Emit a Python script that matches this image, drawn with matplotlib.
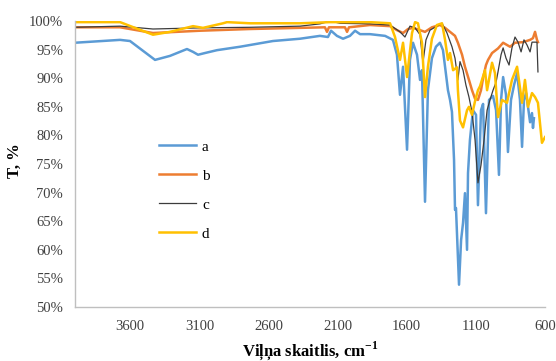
import matplotlib
matplotlib.use("Agg")
import matplotlib.pyplot as plt

# FTIR spectra, (wavenumber cm-1, transmittance %)
pts_a = [
    (4000, 96.2), (3674, 96.7), (3602, 96.5), (3421, 93.2), (3313, 93.9),
    (3190, 95.1), (3146, 94.6), (3110, 94.1), (3060, 94.4), (2973, 94.9),
    (2806, 95.5), (2568, 96.5), (2372, 96.9), (2228, 97.4), (2170, 97.2),
    (2148, 98.3), (2105, 97.4), (2061, 96.9), (2011, 97.4), (1974, 98.3),
    (1938, 97.7), (1866, 97.7), (1757, 97.4), (1700, 96.7), (1671, 94.1),
    (1649, 87.1), (1627, 92.0), (1598, 77.5), (1577, 93.2), (1555, 96.2),
    (1526, 94.1), (1504, 89.7), (1490, 91.4), (1468, 68.4), (1447, 87.9),
    (1418, 93.5), (1389, 95.5), (1360, 96.2), (1338, 94.9), (1323, 92.0),
    (1302, 87.9), (1287, 86.2), (1273, 84.1), (1258, 75.7), (1251, 67.0),
    (1244, 67.3), (1222, 53.9), (1207, 61.7), (1193, 64.7), (1179, 69.9),
    (1164, 60.0), (1157, 73.4), (1143, 79.2), (1121, 84.4), (1099, 83.6),
    (1085, 67.8), (1063, 84.4), (1048, 85.5), (1027, 66.4), (1005, 86.2),
    (976, 86.9), (954, 84.4), (933, 73.1), (918, 86.2), (903, 90.2),
    (882, 87.1), (868, 77.1), (846, 86.2), (824, 88.8), (802, 90.9),
    (781, 86.2), (766, 78.0), (752, 86.2), (737, 87.4), (723, 85.0),
    (708, 82.3), (694, 83.9), (687, 81.3), (680, 83.0),
]

pts_b = [
    (4000, 98.9), (3674, 98.9), (3436, 97.9), (3096, 98.3), (2734, 98.6),
    (2372, 98.8), (2192, 98.9), (2177, 98.1), (2163, 98.9), (2047, 98.9),
    (2032, 98.1), (2018, 98.9), (1866, 99.3), (1721, 99.1), (1671, 98.4),
    (1627, 97.9), (1591, 98.6), (1555, 98.8), (1504, 98.4), (1468, 98.1),
    (1418, 98.9), (1360, 99.3), (1323, 98.8), (1287, 98.1), (1251, 97.4),
    (1230, 96.2), (1200, 94.1), (1179, 92.0), (1150, 89.7), (1128, 87.9),
    (1106, 86.4), (1085, 86.2), (1063, 87.9), (1048, 90.0), (1027, 92.3),
    (1012, 93.2), (983, 94.4), (940, 95.2), (903, 96.2), (853, 95.5),
    (817, 96.2), (759, 96.3), (708, 96.7), (687, 97.0), (672, 98.1),
    (658, 96.7), (651, 96.3),
]

pts_c = [
    (4000, 98.9), (3674, 99.1), (3436, 98.6), (3096, 98.8), (2734, 98.9),
    (2372, 99.1), (2228, 99.5), (2155, 100.0), (2083, 99.6), (1866, 99.5),
    (1721, 99.3), (1649, 98.1), (1613, 97.2), (1577, 99.1), (1540, 98.8),
    (1504, 97.6), (1483, 92.7), (1461, 96.7), (1432, 98.4), (1396, 98.9),
    (1345, 99.6), (1309, 97.9), (1273, 95.5), (1251, 93.5), (1230, 89.7),
    (1215, 92.9), (1193, 91.4), (1172, 88.8), (1150, 86.7), (1128, 84.1),
    (1106, 79.2), (1085, 71.7), (1063, 74.8), (1041, 79.2), (1019, 84.4),
    (998, 86.2), (976, 87.9), (954, 89.3), (940, 91.1), (918, 94.1),
    (903, 95.3), (882, 93.5), (860, 92.3), (839, 95.3), (817, 97.2),
    (795, 96.3), (773, 94.6), (752, 96.7), (730, 95.8), (708, 94.6),
    (694, 96.3), (672, 96.3), (658, 96.3), (651, 91.1),
]

pts_d = [
    (4000, 99.8), (3674, 99.8), (3566, 98.8), (3436, 97.6), (3313, 98.1),
    (3146, 99.1), (3074, 98.8), (2929, 99.6), (2900, 99.8), (2734, 99.6),
    (2372, 99.6), (2155, 99.8), (2047, 99.8), (1866, 99.8), (1721, 99.6),
    (1685, 97.2), (1649, 93.2), (1627, 96.2), (1598, 90.2), (1562, 97.9),
    (1540, 99.8), (1519, 99.6), (1490, 96.2), (1468, 86.7), (1447, 92.0),
    (1418, 96.9), (1382, 99.3), (1345, 99.6), (1323, 96.7), (1302, 93.2),
    (1287, 94.4), (1265, 91.4), (1237, 91.9), (1230, 87.9), (1215, 82.6),
    (1193, 81.4), (1164, 84.4), (1150, 85.0), (1128, 83.6), (1106, 86.0),
    (1085, 87.9), (1070, 88.6), (1034, 91.4), (1019, 87.9), (983, 92.7),
    (962, 90.9), (940, 83.2), (911, 86.2), (875, 85.7), (839, 89.7),
    (802, 92.0), (766, 85.7), (745, 89.7), (723, 85.0), (694, 87.4),
    (672, 86.7), (651, 85.7), (622, 78.7), (600, 79.7),
]

labels = ["a", "b", "c", "d"]
colors = ["#5B9BD5", "#ED7D31", "#3C3C3C", "#FFC000"]
widths = [1.8, 1.8, 0.9, 1.8]
x_ticks = [3600, 3100, 2600, 2100, 1600, 1100, 600]
y_ticks = list(range(50, 101, 5))

plt.rcParams['font.family'] = ['Liberation Serif', 'DejaVu Serif']
plt.rcParams['mathtext.fontset'] = 'custom'
plt.rcParams['mathtext.rm'] = 'Liberation Serif:bold'
plt.rcParams['mathtext.bf'] = 'Liberation Serif:bold'

fig = plt.figure(figsize=(5.56, 3.61), dpi=100)
ax = fig.add_axes([75/556, 1-307/361, 470/556, 286/361])

for pts, lab, col, lw in zip([pts_a, pts_b, pts_c, pts_d], labels, colors, widths):
    xs = [p[0] for p in pts]
    ys = [p[1] for p in pts]
    ax.plot(xs, ys, color=col, lw=lw, label=lab)

ax.set_xlim(4000, 600)
ax.set_ylim(50, 100)
ax.set_xticks(x_ticks)
ax.set_xticklabels([str(v) for v in x_ticks])
ax.set_yticks(y_ticks)
ax.set_yticklabels([f"{v}%" for v in y_ticks])
ax.tick_params(length=0, labelsize=10.5, colors="#404040")
ax.tick_params(axis='y', pad=8.5)
ax.tick_params(axis='x', pad=9.5)
for s in ["top", "right"]:
    ax.spines[s].set_visible(False)
for s in ["left", "bottom"]:
    ax.spines[s].set_color("#BFBFBF")
    ax.spines[s].set_linewidth(1.0)

ax.set_xlabel(r"Viļņa skaitlis, cm$^{-1}$", fontsize=12, fontweight="bold")
ax.xaxis.set_label_coords(0.5, -(339-307)/286)
ax.set_ylabel("T, %", fontsize=12, fontweight="bold")
ax.yaxis.set_label_coords(-(75-23)/470, (307-161)/286)

ax.legend(loc="upper left", bbox_to_anchor=((153-75)/470, (307-134)/286),
          frameon=False, fontsize=11, handlelength=2.4, labelspacing=1.0,
          handletextpad=0.4, borderaxespad=0)

fig.savefig("out.png", dpi=100)
